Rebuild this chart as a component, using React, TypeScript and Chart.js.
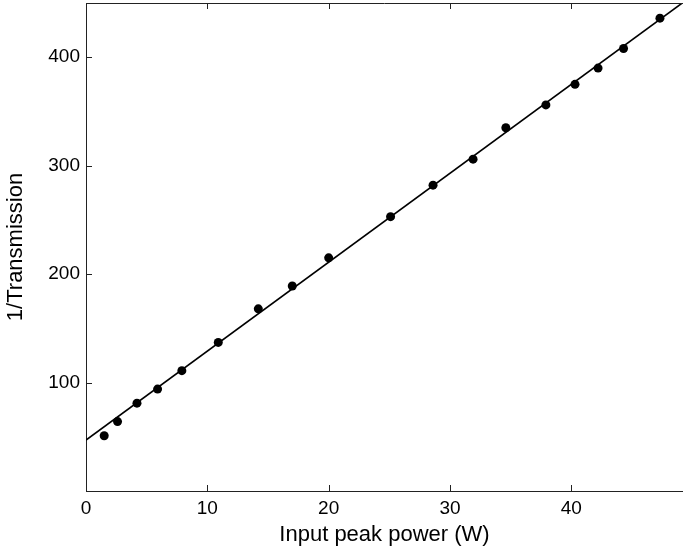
import React, { useEffect, useRef } from "react";
import { Chart, registerables } from "chart.js";

Chart.register(...registerables);

// Measured data points (input peak power in W, 1/Transmission)
const powerW = [1.5, 2.6, 4.2, 5.9, 7.9, 10.9, 14.2, 17.0, 20.0, 25.1, 28.6, 31.9, 34.6, 37.9, 40.3, 42.2, 44.3, 47.3];
const invTransmission = [51, 64, 81, 94, 111, 137, 168, 189, 215, 253, 282, 306, 335, 356, 375, 390, 408, 436];

// Linear fit line end points
const fitX = [0, 49.2];
const fitY = [47, 450.5];

// Tick labels shown
const xTickValues = [0, 10, 20, 30, 40];
const yTickValues = [100, 200, 300, 400];

const FONT = "'Liberation Sans', Arial, Helvetica, sans-serif";

const framePlugin = {
  id: "matlabFrame",
  afterDatasetsDraw(chart: any) {
    const { ctx, chartArea, scales } = chart;
    const { left, right, top, bottom } = chartArea;
    const x = scales.x;
    const y = scales.y;
    ctx.save();
    ctx.strokeStyle = "#222";
    ctx.lineWidth = 1;
    ctx.beginPath();
    ctx.moveTo(left, top + 0.5);
    ctx.lineTo(right, top + 0.5);
    x.ticks.forEach((t: any) => {
      const px = Math.round(x.getPixelForValue(t.value)) + 0.5;
      if (t.value === 0) return;
      ctx.moveTo(px, bottom);
      ctx.lineTo(px, bottom - 6);
      ctx.moveTo(px, top);
      ctx.lineTo(px, top + 6);
    });
    y.ticks.forEach((t: any) => {
      const py = Math.round(y.getPixelForValue(t.value)) + 0.5;
      ctx.moveTo(left, py);
      ctx.lineTo(left + 6, py);
    });
    ctx.stroke();
    ctx.restore();
  },
};

export default function App() {
  const ref = useRef<HTMLCanvasElement | null>(null);

  useEffect(() => {
    if (!ref.current) return;
    const chart = new Chart(ref.current, {
      type: "scatter",
      data: {
        datasets: [
          {
            type: "line",
            label: "Fit",
            data: fitX.map((v, i) => ({ x: v, y: fitY[i] })),
            borderColor: "#000",
            borderWidth: 1.6,
            pointRadius: 0,
            fill: false,
            tension: 0,
          } as any,
          {
            label: "Measured",
            data: powerW.map((v, i) => ({ x: v, y: invTransmission[i] })),
            backgroundColor: "#000",
            borderColor: "#000",
            pointRadius: 4.5,
            pointBorderWidth: 0,
          },
        ],
      },
      options: {
        responsive: false,
        animation: false,
        layout: { autoPadding: false, padding: { top: 3, right: 0, left: 0, bottom: 0 } },
        plugins: {
          legend: { display: false },
          tooltip: { enabled: false },
        },
        scales: {
          x: {
            type: "linear",
            min: 0,
            max: 49.2,
            afterBuildTicks: (s: any) => {
              s.ticks = xTickValues.map((v) => ({ value: v }));
            },
            afterFit: (s: any) => {
              s.height = 59;
              s.paddingLeft = 0;
              s.paddingRight = 0;
            },
            grid: { display: false, drawTicks: false },
            border: { display: true, color: "#222", width: 1 },
            ticks: {
              color: "#000",
              font: { family: FONT, size: 19 },
              padding: 6,
              maxRotation: 0,
            },
            title: {
              display: true,
              text: "Input peak power (W)",
              color: "#000",
              font: { family: FONT, size: 22 },
              padding: { top: 0, bottom: 2 },
            },
          },
          y: {
            type: "linear",
            min: 0,
            max: 450,
            afterBuildTicks: (s: any) => {
              s.ticks = yTickValues.map((v) => ({ value: v }));
            },
            afterFit: (s: any) => {
              s.width = 86;
              s.paddingTop = 0;
              s.paddingBottom = 0;
            },
            grid: { display: false, drawTicks: false },
            border: { display: true, color: "#222", width: 1 },
            ticks: {
              color: "#000",
              font: { family: FONT, size: 19 },
              padding: 6,
            },
            title: {
              display: true,
              text: "1/Transmission",
              color: "#000",
              font: { family: FONT, size: 22 },
              padding: { top: 3, bottom: 0 },
            },
          },
        },
      },
      plugins: [framePlugin],
    });
    return () => chart.destroy();
  }, []);

  return (
    <div style={{ position: "absolute", left: 0, top: 0, width: 683, height: 550, background: "#fff" }}>
      <canvas ref={ref} width={683} height={550} />
    </div>
  );
}
